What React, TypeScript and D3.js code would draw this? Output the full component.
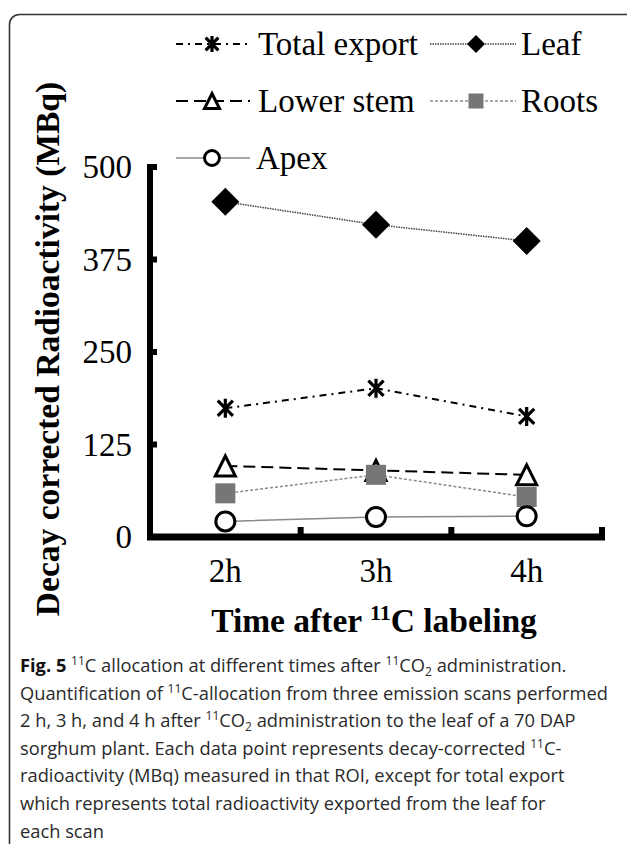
import React from "react";
import * as d3 from "d3";

const categories = ["2h", "3h", "4h"];
const totalExport = [174, 201, 163];
const leaf = [453, 422, 400];
const lowerStem = [96, 90, 84];
const roots = [59, 84, 54];
const apex = [21, 27, 28];
const yTicks = [0, 125, 250, 375, 500];

const W = 627;
const H = 844;
const serif = "'Liberation Serif', 'Times New Roman', serif";
const sans = "'Open Sans', 'Noto Sans', sans-serif";

type Shape = "asterisk" | "diamond" | "triangle" | "square" | "circle";

function Marker({ shape, x, y, s }: { shape: Shape; x: number; y: number; s: number }) {
  const h = s / 2;
  if (shape === "diamond") {
    return <path d={`M${x},${y - h}L${x + h},${y}L${x},${y + h}L${x - h},${y}Z`} fill="#000" />;
  }
  if (shape === "square") {
    return <rect x={x - h} y={y - h} width={s} height={s} fill="#767676" />;
  }
  if (shape === "circle") {
    return <circle cx={x} cy={y} r={h - 1.5} fill="#fff" stroke="#000" strokeWidth={3} />;
  }
  if (shape === "triangle") {
    const a = h - 1.5;
    return (
      <path
        d={`M${x},${y - a}L${x + a},${y + a}L${x - a},${y + a}Z`}
        fill="#fff"
        stroke="#000"
        strokeWidth={3}
        strokeLinejoin="miter"
      />
    );
  }
  const a = h - 1;
  const d = a * 0.8;
  return (
    <path
      d={`M${x},${y - a}L${x},${y + a}M${x - d},${y - d}L${x + d},${y + d}M${x - d},${y + d}L${x + d},${y - d}`}
      stroke="#000"
      strokeWidth={3.2}
    />
  );
}

const series = [
  { name: "Total export", values: totalExport, shape: "asterisk" as Shape, color: "#000", width: 2, dash: "7 5 2 5", size: 21, lsize: 18 },
  { name: "Leaf", values: leaf, shape: "diamond" as Shape, color: "#444", width: 1.5, dash: "1.5 1", size: 28, lsize: 18 },
  { name: "Lower stem", values: lowerStem, shape: "triangle" as Shape, color: "#000", width: 2, dash: "12 6", size: 23, lsize: 18 },
  { name: "Roots", values: roots, shape: "square" as Shape, color: "#8a8a8a", width: 1.5, dash: "3 2", size: 20, lsize: 15 },
  { name: "Apex", values: apex, shape: "circle" as Shape, color: "#8a8a8a", width: 1.5, dash: "", size: 22, lsize: 18 },
];

const legendPos = [
  { x0: 176, x1: 250, mx: 212, tx: 258, cy: 44 },
  { x0: 430, x1: 516, mx: 476, tx: 521, cy: 44 },
  { x0: 176, x1: 250, mx: 212, tx: 258, cy: 101 },
  { x0: 430, x1: 516, mx: 476, tx: 521, cy: 101 },
  { x0: 176, x1: 250, mx: 212, tx: 256, cy: 158 },
];

export default function App() {
  const x = d3.scalePoint<string>().domain(categories).range([150, 602]).padding(0.5);
  const y = d3.scaleLinear().domain([0, 500]).range([537, 167]);
  const line = d3
    .line<number>()
    .x((_, i) => x(categories[i]) as number)
    .y((v) => y(v));
  const step = x.step();
  const xTickPos = categories.map((c) => (x(c) as number) + step / 2);

  const sup = 12;
  const capLines: React.ReactNode[] = [
    <>
      <tspan fontWeight="bold" fill="#111">Fig. 5</tspan>
      <tspan> </tspan>
      <tspan fontSize={sup} dy={-7}>11</tspan>
      <tspan dy={7}>C allocation at different times after </tspan>
      <tspan fontSize={sup} dy={-7}>11</tspan>
      <tspan dy={7}>CO</tspan>
      <tspan fontSize={sup} dy={4}>2</tspan>
      <tspan dy={-4}> administration.</tspan>
    </>,
    <>
      <tspan>Quantification of </tspan>
      <tspan fontSize={sup} dy={-7}>11</tspan>
      <tspan dy={7}>C-allocation from three emission scans performed</tspan>
    </>,
    <>
      <tspan>2 h, 3 h, and 4 h after </tspan>
      <tspan fontSize={sup} dy={-7}>11</tspan>
      <tspan dy={7}>CO</tspan>
      <tspan fontSize={sup} dy={4}>2</tspan>
      <tspan dy={-4}> administration to the leaf of a 70 DAP</tspan>
    </>,
    <>
      <tspan>sorghum plant. Each data point represents decay-corrected </tspan>
      <tspan fontSize={sup} dy={-7}>11</tspan>
      <tspan dy={7}>C-</tspan>
    </>,
    <>radioactivity (MBq) measured in that ROI, except for total export</>,
    <>which represents total radioactivity exported from the leaf for</>,
    <>each scan</>,
  ];

  return (
    <svg
      width={W}
      height={H}
      style={{ position: "absolute", left: 0, top: 0, background: "#fff" }}
    >
      <rect x={0} y={0} width={W} height={H} fill="#fff" />
      {/* frame */}
      <rect x={9.5} y={14.5} width={630} height={900} rx={10} fill="none" stroke="#333" strokeWidth={1.6} />

      {/* legend */}
      {series.map((s, i) => {
        const p = legendPos[i];
        return (
          <g key={s.name}>
            <line
              x1={p.x0}
              x2={p.x1}
              y1={p.cy}
              y2={p.cy}
              stroke={s.color}
              strokeWidth={s.width}
              strokeDasharray={s.dash || undefined}
            />
            <Marker shape={s.shape} x={p.mx} y={p.cy} s={s.lsize} />
            <text x={p.tx} y={p.cy + 11} fontFamily={serif} fontSize={33} fill="#000">
              {s.name}
            </text>
          </g>
        );
      })}

      {/* y axis */}
      <line x1={150} x2={150} y1={y(500) - 3} y2={y(0) + 3} stroke="#000" strokeWidth={6} />
      {yTicks.map((t) => (
        <g key={t}>
          <line x1={150} x2={157} y1={y(t)} y2={y(t)} stroke="#000" strokeWidth={6} />
          <text x={132} y={y(t) + 11} textAnchor="end" fontFamily={serif} fontSize={33} fill="#000">
            {t}
          </text>
        </g>
      ))}
      {/* x axis */}
      <line x1={147} x2={605} y1={y(0)} y2={y(0)} stroke="#000" strokeWidth={7} />
      {xTickPos.map((p, i) => (
        <line key={i} x1={p} x2={p} y1={y(0)} y2={y(0) - 10} stroke="#000" strokeWidth={6} />
      ))}
      {categories.map((c) => (
        <text key={c} x={x(c) as number} y={582} textAnchor="middle" fontFamily={serif} fontSize={33} fill="#000">
          {c}
        </text>
      ))}

      {/* series */}
      {series.map((s) => (
        <g key={s.name}>
          <path
            d={line(s.values) as string}
            fill="none"
            stroke={s.color}
            strokeWidth={s.width}
            strokeDasharray={s.dash || undefined}
          />
          {s.values.map((v, i) => (
            <Marker key={i} shape={s.shape} x={x(categories[i]) as number} y={y(v)} s={s.size} />
          ))}
        </g>
      ))}

      {/* axis titles */}
      <text
        transform={`translate(59,349) rotate(-90)`}
        textAnchor="middle"
        fontFamily={serif}
        fontWeight="bold"
        fontSize={33.5}
        fill="#000"
      >
        Decay corrected Radioactivity (MBq)
      </text>
      <text x={374} y={632} textAnchor="middle" fontFamily={serif} fontWeight="bold" fontSize={33.5} fill="#000">
        <tspan>Time after </tspan>
        <tspan fontSize={22} dy={-12}>11</tspan>
        <tspan dy={12}>C labeling</tspan>
      </text>

      {/* caption */}
      {capLines.map((c, i) => (
        <text key={i} x={20} y={672 + i * 27.6} fontFamily={sans} fontSize={18.3} fill="#2a2a2a">
          {c}
        </text>
      ))}
    </svg>
  );
}
